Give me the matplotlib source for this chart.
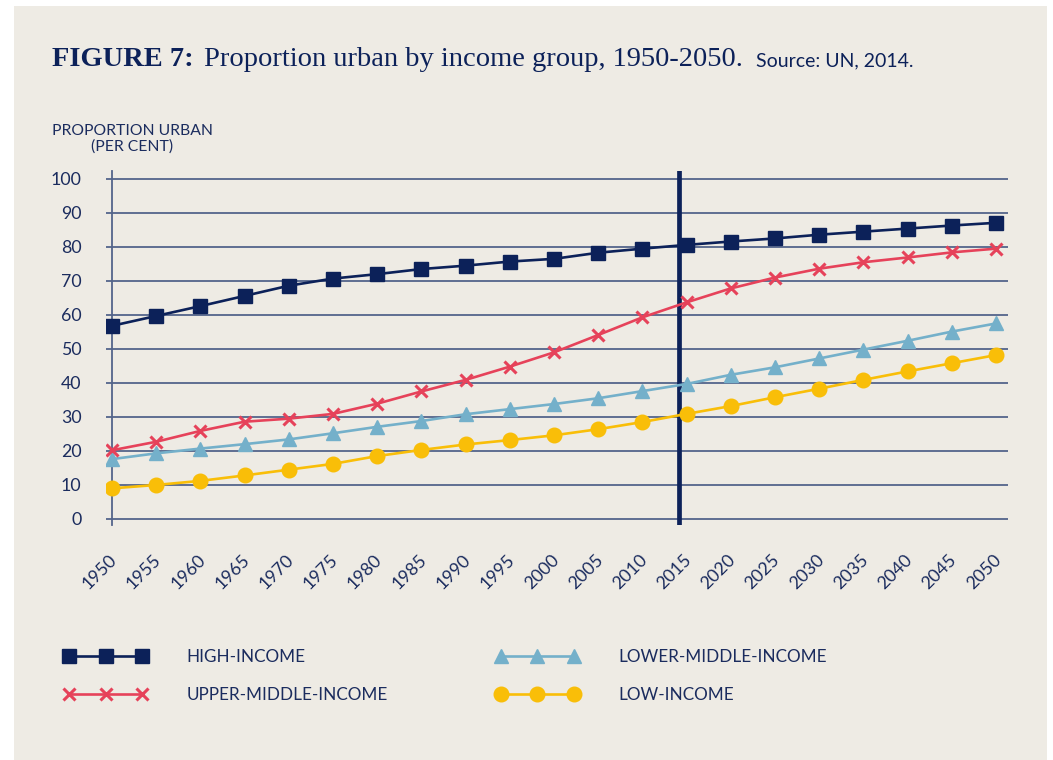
import matplotlib.pyplot as plt
from matplotlib.patches import Rectangle
from matplotlib.transforms import ScaledTranslation

# Data (UN 2014)
years = list(range(1950, 2051, 5))
high_income = [56.8, 59.7, 62.6, 65.6, 68.6, 70.7, 72.0, 73.5, 74.5, 75.7, 76.5,
               78.3, 79.5, 80.6, 81.6, 82.5, 83.6, 84.5, 85.4, 86.3, 87.1]
upper_middle = [20.2, 22.7, 25.9, 28.6, 29.5, 30.9, 33.9, 37.5, 40.9, 44.8, 49.0,
                54.1, 59.3, 63.7, 67.8, 71.0, 73.6, 75.5, 76.9, 78.4, 79.5]
lower_middle = [17.6, 19.3, 20.7, 22.0, 23.4, 25.2, 27.1, 28.8, 30.8, 32.3, 33.8,
                35.5, 37.6, 39.7, 42.4, 44.6, 47.2, 49.8, 52.4, 55.1, 57.5]
low_income = [9.0, 10.0, 11.2, 12.8, 14.5, 16.2, 18.5, 20.3, 21.9, 23.2, 24.6,
              26.4, 28.5, 30.9, 33.2, 35.8, 38.3, 40.9, 43.4, 45.8, 48.2]
y_ticks = list(range(0, 101, 10))
projection_start = 2014.1

# Colours
BG = "#eeebe4"
NAVY = "#0c2159"
TEXT = "#1b2c5e"
GRID = "#53648b"
RED = "#e6425a"
BLUE = "#74b0ca"
YELLOW = "#f9be08"

SANS = "Lato"
SERIF = "Liberation Serif"

fig = plt.figure(figsize=(10.53, 7.6), dpi=100)
fig.patch.set_facecolor("white")
fig.add_artist(Rectangle((14 / 1053, 0), 1033 / 1053, 754 / 760,
                         transform=fig.transFigure, facecolor=BG,
                         edgecolor="none", zorder=0))

ax = fig.add_axes([106 / 1053, 0.3091, 902 / 1053, 0.4653])
ax.set_facecolor("none")
ax.set_xlim(1949.32, 2051.36)
ax.set_ylim(-1.8, 102.2)

# grid + axis line
ax.set_yticks(y_ticks)
ax.yaxis.grid(True, color=GRID, lw=1.3)
ax.set_axisbelow(True)
for s in ["top", "right", "bottom"]:
    ax.spines[s].set_visible(False)
ax.spines["left"].set_position(("data", years[0]))
ax.spines["left"].set_color(GRID)
ax.spines["left"].set_linewidth(1.3)

# present-day divider
ax.axvline(projection_start, color=NAVY, lw=3.4, zorder=2)

# series
ax.plot(years, high_income, color=NAVY, lw=1.9, marker="s", ms=10,
        label="HIGH-INCOME", zorder=4)
ax.plot(years, upper_middle, color=RED, lw=1.9, marker="x", ms=9, mew=2.2,
        label="UPPER-MIDDLE-INCOME", zorder=4)
ax.plot(years, lower_middle, color=BLUE, lw=1.9, marker="^", ms=10,
        label="LOWER-MIDDLE-INCOME", zorder=3)
ax.plot(years, low_income, color=YELLOW, lw=1.9, marker="o", ms=10.5,
        label="LOW-INCOME", zorder=3)

# ticks
ax.set_xticks(years)
ax.tick_params(axis="y", length=0, pad=22, labelsize=12.8, labelcolor=TEXT)
ax.tick_params(axis="x", length=0, pad=19, labelsize=12.8, labelcolor=TEXT)
for lab in ax.get_yticklabels():
    lab.set_fontfamily(SANS)
shift = ScaledTranslation(8 / 100, 0, fig.dpi_scale_trans)
for lab in ax.get_xticklabels():
    lab.set_fontfamily(SANS)
    lab.set_rotation(45)
    lab.set_ha("right")
    lab.set_transform(lab.get_transform() + shift)

# y axis title
fig.text(132 / 1053, (760 - 139) / 760, "PROPORTION URBAN\n(PER CENT)",
         ha="center", va="center", multialignment="center",
         fontsize=11.3, color=TEXT, family=SANS, linespacing=1.1)

# title, built piece by piece
renderer = fig.canvas.get_renderer()
ty = (760 - 66) / 760
t1 = fig.text(52 / 1053, ty, "FIGURE 7:", fontsize=20.5, fontweight="bold",
              family=SERIF, color=NAVY, va="baseline")
x1 = fig.transFigure.inverted().transform(
    (t1.get_window_extent(renderer).x1, 0))[0]
t2 = fig.text(x1 + 10 / 1053, ty, "Proportion urban by income group, 1950-2050.",
              fontsize=20.5, family=SERIF, color=NAVY, va="baseline")
x2 = fig.transFigure.inverted().transform(
    (t2.get_window_extent(renderer).x1, 0))[0]
fig.text(x2 + 13 / 1053, ty, "Source: UN, 2014.", fontsize=14,
         family=SANS, color=NAVY, va="baseline")

# legend in two columns
handles, labels = ax.get_legend_handles_labels()
fs = 12.3
hl = 83.6 / (fs * 100 / 72)
leg_kw = dict(frameon=False, loc="center left", borderpad=0, borderaxespad=0,
              numpoints=3, handlelength=hl, handletextpad=39 / (fs * 100 / 72),
              labelspacing=1.3, labelcolor=TEXT,
              prop={"family": SANS, "size": fs},
              bbox_transform=fig.transFigure)
leg1 = ax.legend(handles[:2], labels[:2],
                 bbox_to_anchor=(64 / 1053, (760 - 676) / 760), **leg_kw)
ax.add_artist(leg1)
ax.legend(handles[2:], labels[2:],
          bbox_to_anchor=(495.5 / 1053, (760 - 676) / 760), **leg_kw)

fig.savefig("out.png", dpi=100, facecolor=fig.get_facecolor())
